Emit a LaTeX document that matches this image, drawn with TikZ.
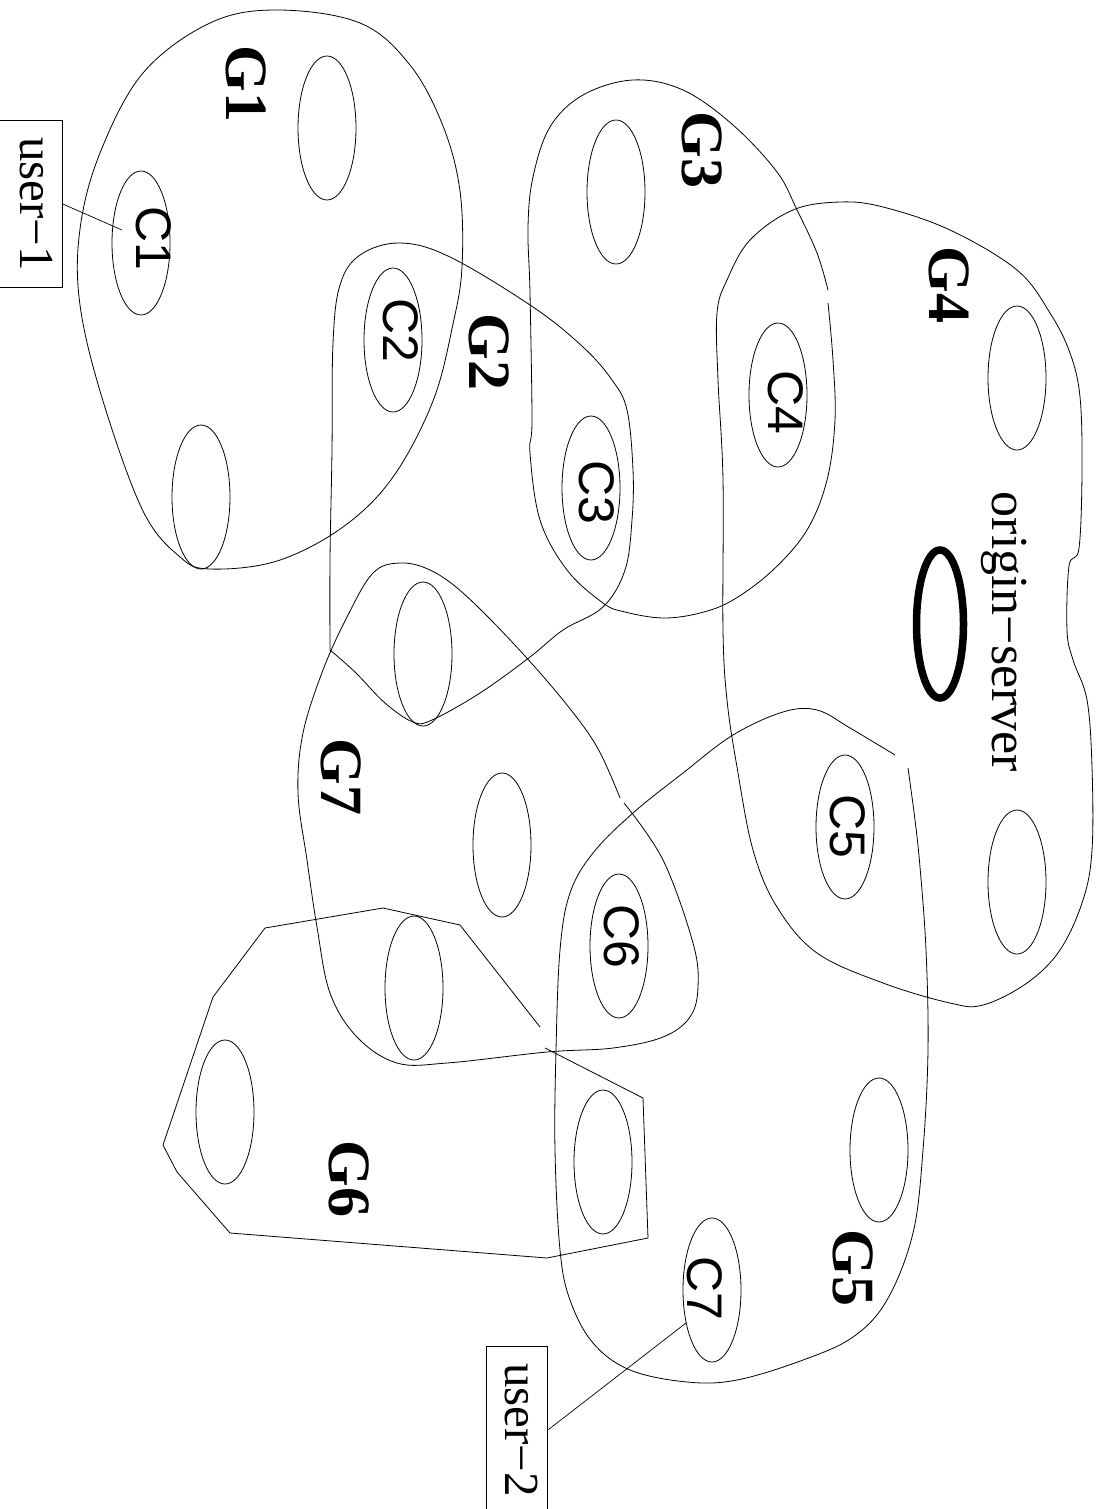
\documentclass[tikz,border=0pt]{standalone}
\usepackage{fontspec}
\setmainfont{Liberation Serif}
\setsansfont{Liberation Sans}
\usetikzlibrary{shapes.geometric}
\begin{document}
\begin{tikzpicture}[x=1pt,y=-1pt]
\tikzset{
 blob/.style={draw, line width=0.8pt},
 cell/.style={draw, ellipse, minimum width=58pt, minimum height=144pt, inner sep=0pt, line width=0.8pt},
 clab/.style={rotate=-90, anchor=base, font=\sffamily\fontsize{50}{50}\selectfont, inner sep=0pt},
 glab/.style={rotate=-90, anchor=base, font=\bfseries\fontsize{60}{60}\selectfont, inner sep=0pt},
 userbox/.style={draw, line width=0.8pt, rotate=-90, anchor=base, font=\fontsize{49}{49}\selectfont, inner xsep=17pt, inner ysep=10pt},
 link/.style={draw, line width=0.7pt},
}
\useasboundingbox (0,0) rectangle (1104,1509);
\clip (0,0) rectangle (1104,1509);

% group outlines
\draw[blob] plot[smooth cycle, tension=0.6] coordinates {(277,10) (360,23) (410,65) (443,126) (460,191) (462,267) (453,324) (433,401) (393,477) (343,527) (277,561) (210,569) (180,557) (143,511) (103,401) (80,305) (80,229) (100,153) (143,73) (210,23)};
\draw[blob] plot[smooth, tension=0.6] coordinates {(330,650) (330,560) (332,450) (333,343) (340,285) (360,255) (400,243) (450,257) (533,307) (583,347) (612,380) (627,410) (633,470) (632,520) (625,570) (603,607) (563,630) (530,657) (480,693) (432,720) (413,722) (385,703) (355,672) (330,650)};
\draw[blob] plot[smooth, tension=0.6] coordinates {(828,303) (833,360) (835,420) (827,480) (807,530) (773,570) (733,600) (700,613) (663,618) (625,612) (603,603) (567,570) (540,520) (530,453) (532,420) (530,293) (528,227) (533,177) (550,127) (583,95) (633,80) (683,90) (733,125) (777,172) (797,210) (817,253) (828,290)};
\draw[blob] plot[smooth cycle, tension=0.6] coordinates {(727,280) (750,240) (793,210) (840,202) (883,207) (950,230) (1017,270) (1050,313) (1070,353) (1080,397) (1082,470) (1079,548) (1069,566) (1067,630) (1073,660) (1087,700) (1092,767) (1092,850) (1083,900) (1060,950) (1027,983) (983,1005) (950,1003) (883,983) (817,953) (777,907) (753,850) (737,767) (727,700) (723,630) (723,480) (718,380) (717,313)};
\draw[blob] plot[smooth, tension=0.6] coordinates {(908,768) (915,820) (920,867) (926,950) (928,1050) (923,1150) (913,1233) (887,1300) (853,1337) (803,1360) (737,1380) (687,1382) (630,1370) (593,1343) (570,1300) (560,1250) (555,1150) (556,1050) (560,950) (570,893) (593,853) (633,813) (683,773) (733,735) (783,712) (817,710) (850,728) (895,755)};
\draw[blob] (540,1027) -- (460,925) -- (383,908) -- (265,928) -- (213,997) -- (163,1145) -- (177,1172) -- (230,1233) -- (547,1258) -- (648,1238) -- (643,1098) -- (545,1048);
\draw[blob] plot[smooth, tension=0.6] coordinates {(624,803) (663,860) (693,943) (698,987) (690,1017) (663,1037) (613,1048) (547,1052) (447,1063) (397,1063) (357,1037) (330,993) (317,927) (307,860) (298,793) (303,733) (323,670) (347,617) (373,573) (400,563) (430,570) (463,593) (513,643) (563,700) (597,747) (620,798)};

% caches
\node[cell] (C1) at (141,243) {};
\node[cell] (e1) at (327,128) {};
\node[cell] (e2) at (201,497) {};
\node[cell] (C2) at (393,340) {};
\node[cell] (C3) at (591,488) {};
\node[cell] (e3) at (616,192) {};
\node[cell] (C4) at (778,395) {};
\node[cell] (e4) at (1017,378) {};
\node[cell] (C5) at (845,827) {};
\node[cell] (e5) at (1017,882) {};
\node[cell] (C6) at (619,946) {};
\node[cell] (e6) at (423,654) {};
\node[cell] (e7) at (502,845) {};
\node[cell] (e8) at (414,988) {};
\node[cell] (e9) at (225,1112) {};
\node[cell] (e10) at (603,1162) {};
\node[cell] (e11) at (879,1150) {};
\node[cell] (C7) at (712,1290) {};
\node[draw, ellipse, line width=7.5pt, minimum width=47pt, minimum height=148pt, inner sep=0pt] (origin) at (940,624) {};

% cache labels
\node[clab] (tC1) at (136,238) {C1};
\node[clab] (tC2) at (383,330) {C2};
\node[clab] (tC3) at (579,492) {C3};
\node[clab] (tC4) at (768,402) {C4};
\node[clab] (tC5) at (830,826) {C5};
\node[clab] (tC6) at (604,936) {C6};
\node[clab] (tC7) at (687,1288) {C7};

% group labels
\node[glab] (G1) at (226,84) {G1};
\node[glab] (G2) at (469,352) {G2};
\node[glab] (G3) at (682,150) {G3};
\node[glab] (G4) at (929,285) {G4};
\node[glab] (G5) at (833,1268) {G5};
\node[glab] (G6) at (329,1179) {G6};
\node[glab] (G7) at (321,777) {G7};

\node[rotate=-90, anchor=base, font=\fontsize{52}{52}\selectfont, inner sep=0pt] (otext) at (992,632) {origin−server};

% users
\node[userbox, text depth=30pt] (user1) at (20,204) {user−1};
\node[userbox, text depth=9pt] (user2) at (505,1430) {user−2};
\coordinate (c1end) at (122,230);
\coordinate (c7end) at (686,1323);
\draw[link] (user1.north) -- (c1end);
\draw[link] (user2.north) -- (c7end);
\end{tikzpicture}
\end{document}
